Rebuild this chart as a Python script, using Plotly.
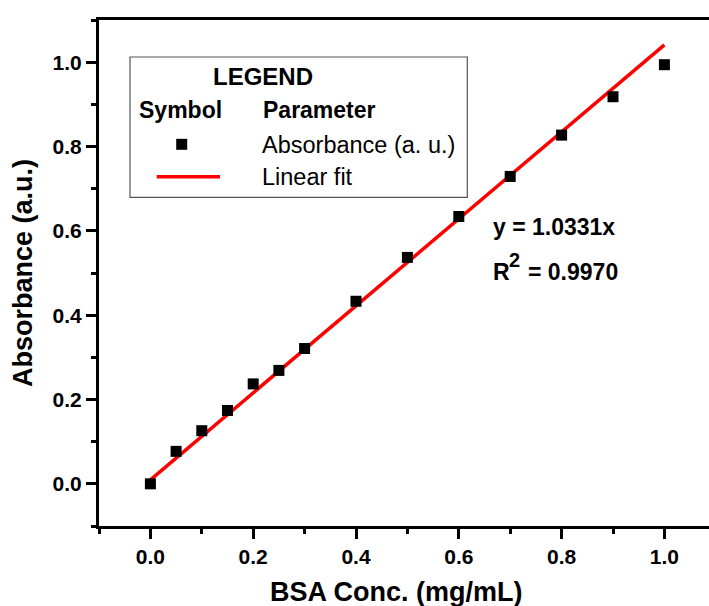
import plotly.graph_objects as go

# ---- data ----
conc = [0.0, 0.05, 0.1, 0.15, 0.2, 0.25, 0.3, 0.4, 0.5, 0.6, 0.7, 0.8, 0.9, 1.0]
absorbance = [0.000, 0.077, 0.126, 0.174, 0.237, 0.269, 0.321, 0.433, 0.537, 0.634, 0.729, 0.827, 0.918, 0.994]
fit_x = [0.0, 1.0]
fit_y = [0.0095, 1.041]
x_tickvals = [0.0, 0.2, 0.4, 0.6, 0.8, 1.0]
y_tickvals = [0.0, 0.2, 0.4, 0.6, 0.8, 1.0]
equation_text = "y = 1.0331x"
r2_parts = ["R", "2", "= 0.9970"]
legend_title = "LEGEND"
legend_headers = ["Symbol", "Parameter"]
legend_labels = ["Absorbance (a. u.)", "Linear fit"]
x_title = "BSA Conc. (mg/mL)"
y_title = "Absorbance (a.u.)"

W, H = 709, 606
ML, MR, MT, MB = 99, 0, 20, 80
PW, PH = W - ML - MR, H - MT - MB
FONT = "Liberation Sans, Arial, sans-serif"


def px(x):
    return (x - ML) / PW


def py(y):
    return (H - MB - y) / PH


fig = go.Figure()
fig.add_trace(go.Scatter(x=fit_x, y=fit_y, mode="lines",
                         line=dict(color="#ff0000", width=3.5), showlegend=False))
fig.add_trace(go.Scatter(x=conc, y=absorbance, mode="markers",
                         marker=dict(symbol="square", size=11, color="black",
                                     line=dict(width=0)), showlegend=False))

axis_common = dict(showline=True, linecolor="black", linewidth=3, ticks="outside",
                   ticklen=10, tickwidth=3, tickcolor="black", showgrid=False,
                   zeroline=False, tickformat=".1f",
                   tickfont=dict(family=FONT, size=21, color="black", weight="bold"),
                   minor=dict(dtick=0.1, tick0=0, ticks="outside", ticklen=5,
                              tickwidth=3, tickcolor="black", showgrid=False))

fig.update_xaxes(range=[-0.1, -0.1 + PW / 514.0], tickvals=x_tickvals, mirror=True,
                 **axis_common)
fig.update_yaxes(range=[-0.1, 1.1], tickvals=y_tickvals, mirror=False,
                 title=dict(text=y_title, standoff=13,
                            font=dict(family=FONT, size=27, color="black", weight="bold")),
                 **axis_common)

shapes = []
annotations = []
# legend box
shapes.append(dict(type="rect", xref="paper", yref="paper", x0=px(130), x1=px(467.3),
                   y0=py(197.3), y1=py(57), line=dict(color="#555555", width=1.2),
                   fillcolor="white", layer="below"))
# legend samples
shapes.append(dict(type="rect", xref="paper", yref="paper", x0=px(176.2), x1=px(187.2),
                   y0=py(149.8), y1=py(138.8), line=dict(width=0), fillcolor="black"))
shapes.append(dict(type="line", xref="paper", yref="paper", x0=px(156.7), x1=px(220),
                   y0=py(176.7), y1=py(176.7), line=dict(color="#ff0000", width=3.5)))


def ann(text, x, y, size, bold=False, xanchor="left"):
    annotations.append(dict(text=text, xref="paper", yref="paper", x=px(x), y=py(y),
                            xanchor=xanchor, yanchor="middle", showarrow=False,
                            font=dict(family=FONT, size=size, color="black",
                                      weight="bold" if bold else "normal")))


# x-axis title (as annotation so it can sit where the reference has it)
ann(x_title, 396, 592, 27, bold=True, xanchor="center")

ann(legend_title, 263, 76.7, 24, bold=True, xanchor="center")
ann(legend_headers[0], 136.5, 110, 23, bold=True)
ann(legend_headers[1], 260.5, 110, 23, bold=True)
ann(legend_labels[0], 260, 144.5, 23.5)
ann(legend_labels[1], 260, 177, 23.5)
ann(equation_text, 490.5, 226.7, 23, bold=True)
ann(r2_parts[0], 490.5, 272, 23, bold=True)
ann(r2_parts[1], 506.5, 260, 20, bold=True)
ann(r2_parts[2], 526, 272, 23, bold=True)

fig.update_layout(width=W, height=H, margin=dict(l=ML, r=MR, t=MT, b=MB),
                  paper_bgcolor="white", plot_bgcolor="white",
                  shapes=shapes, annotations=annotations, showlegend=False)

fig.write_html("out.html")
